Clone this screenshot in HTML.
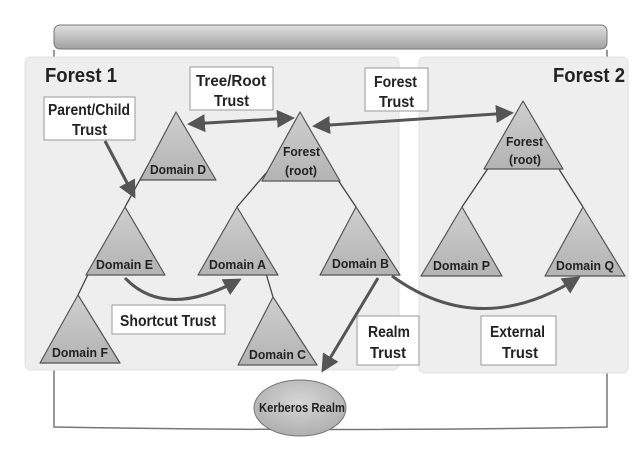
<!DOCTYPE html>
<html><head><meta charset="utf-8"><style>
html,body{margin:0;padding:0;background:#fff;}
svg{display:block;font-family:"Liberation Sans",Arial,sans-serif;}
</style></head><body>
<svg width="640" height="449" viewBox="0 0 640 449" xmlns="http://www.w3.org/2000/svg">
<defs>
<linearGradient id="hdr" x1="0" y1="0" x2="0" y2="1"><stop offset="0" stop-color="#e0e0e0"/><stop offset="1" stop-color="#a0a0a0"/></linearGradient>
<linearGradient id="tri" x1="0" y1="0" x2="0" y2="1"><stop offset="0" stop-color="#cfcfcf"/><stop offset="1" stop-color="#b3b3b3"/></linearGradient>
<radialGradient id="ell" cx="0.5" cy="0.4" r="0.6"><stop offset="0" stop-color="#d6d6d6"/><stop offset="1" stop-color="#afafaf"/></radialGradient>
<marker id="ah" markerWidth="6" markerHeight="6" refX="5" refY="3" orient="auto" markerUnits="strokeWidth"><path d="M0,0 L6,3 L0,6 Z" fill="#555"/></marker>
<marker id="as" markerWidth="6" markerHeight="6" refX="1" refY="3" orient="auto" markerUnits="strokeWidth"><path d="M6,0 L0,3 L6,6 Z" fill="#555"/></marker>
</defs>
<path d="M54,50 L54,427 Q330,432 607,427 L607,50" fill="#fff" stroke="#777" stroke-width="1.5"/>
<rect x="54" y="25" width="553" height="24" rx="6" fill="url(#hdr)" stroke="#777"/>
<rect x="25" y="57" width="374" height="313" rx="6" fill="#eeeeee" stroke="#e0e0e0"/>
<rect x="419" y="57" width="209" height="316" rx="6" fill="#eeeeee" stroke="#e0e0e0"/>
<g font-size="20" font-weight="bold" fill="#222" lengthAdjust="spacingAndGlyphs">
<text x="45" y="82" textLength="72" lengthAdjust="spacingAndGlyphs">Forest 1</text>
<text x="553" y="82" textLength="72" lengthAdjust="spacingAndGlyphs">Forest 2</text>
</g>
<g stroke="#444" stroke-width="1.3" fill="none">
<line x1="148" y1="165" x2="125" y2="207"/>
<line x1="273" y1="165" x2="237" y2="207"/>
<line x1="328" y1="165" x2="356" y2="207"/>
<line x1="497" y1="155" x2="462" y2="207"/>
<line x1="550" y1="155" x2="583" y2="207"/>
<line x1="95" y1="260" x2="78" y2="295"/>
<line x1="262" y1="260" x2="273" y2="297"/>
</g>
<g fill="url(#tri)" stroke="#555" stroke-width="1.2" stroke-linejoin="round">
<polygon points="176,112 140,180 216,180"/>
<polygon points="300,112 262,181 340,181"/>
<polygon points="523,101 484,169 563,169"/>
<polygon points="125,207 86,275 165,275"/>
<polygon points="237,207 198,275 278,275"/>
<polygon points="356,207 320,275 400,275"/>
<polygon points="462,207 421,276 502,276"/>
<polygon points="583,207 545,276 625,276"/>
<polygon points="78,295 40,363 120,363"/>
<polygon points="273,297 238,365 317,365"/>
</g>
<g font-size="13" font-weight="bold" fill="#222">
<text x="150" y="174" textLength="56" lengthAdjust="spacingAndGlyphs">Domain D</text>
<text x="283" y="156" textLength="37" lengthAdjust="spacingAndGlyphs">Forest</text>
<text x="285" y="175" textLength="32" lengthAdjust="spacingAndGlyphs">(root)</text>
<text x="506" y="146" textLength="37" lengthAdjust="spacingAndGlyphs">Forest</text>
<text x="509" y="164" textLength="32" lengthAdjust="spacingAndGlyphs">(root)</text>
<text x="96" y="269" textLength="57" lengthAdjust="spacingAndGlyphs">Domain E</text>
<text x="209" y="269" textLength="57" lengthAdjust="spacingAndGlyphs">Domain A</text>
<text x="332" y="268" textLength="57" lengthAdjust="spacingAndGlyphs">Domain B</text>
<text x="433" y="270" textLength="57" lengthAdjust="spacingAndGlyphs">Domain P</text>
<text x="556" y="270" textLength="58" lengthAdjust="spacingAndGlyphs">Domain Q</text>
<text x="52" y="357" textLength="56" lengthAdjust="spacingAndGlyphs">Domain F</text>
<text x="249" y="359" textLength="57" lengthAdjust="spacingAndGlyphs">Domain C</text>
</g>
<g stroke="#555" stroke-width="3" fill="none">
<line x1="190" y1="124" x2="292" y2="118" marker-start="url(#as)" marker-end="url(#ah)"/>
<line x1="315" y1="126" x2="511" y2="113" marker-start="url(#as)" marker-end="url(#ah)"/>
<line x1="105" y1="141" x2="134" y2="196" marker-end="url(#ah)"/>
<path d="M125,278 Q165,320 239,280" marker-end="url(#ah)"/>
<line x1="378" y1="278" x2="323" y2="370" marker-end="url(#ah)"/>
<path d="M392,276 Q480,340 578,278" marker-end="url(#ah)"/>
</g>
<g fill="#fff" stroke="#999" stroke-width="1">
<rect x="44" y="97" width="91" height="43"/>
<rect x="190" y="67" width="83" height="43"/>
<rect x="365" y="68" width="63" height="43"/>
<rect x="112" y="305" width="113" height="29"/>
<rect x="357" y="316" width="62" height="49"/>
<rect x="481" y="316" width="75" height="49"/>
</g>
<g font-size="16" font-weight="bold" fill="#222">
<text x="48" y="115" textLength="82" lengthAdjust="spacingAndGlyphs">Parent/Child</text>
<text x="72" y="135" textLength="35" lengthAdjust="spacingAndGlyphs">Trust</text>
<text x="196" y="86" textLength="70" lengthAdjust="spacingAndGlyphs">Tree/Root</text>
<text x="214" y="106" textLength="35" lengthAdjust="spacingAndGlyphs">Trust</text>
<text x="374" y="87" textLength="43" lengthAdjust="spacingAndGlyphs">Forest</text>
<text x="379" y="107" textLength="35" lengthAdjust="spacingAndGlyphs">Trust</text>
<text x="120" y="326" textLength="96" lengthAdjust="spacingAndGlyphs">Shortcut Trust</text>
<text x="368" y="337" textLength="42" lengthAdjust="spacingAndGlyphs">Realm</text>
<text x="370" y="358" textLength="36" lengthAdjust="spacingAndGlyphs">Trust</text>
<text x="490" y="337" textLength="55" lengthAdjust="spacingAndGlyphs">External</text>
<text x="502" y="358" textLength="36" lengthAdjust="spacingAndGlyphs">Trust</text>
</g>
<ellipse cx="300" cy="408" rx="46" ry="28" fill="url(#ell)" stroke="#777"/>
<text x="259" y="412" font-size="13" font-weight="bold" fill="#222" textLength="86" lengthAdjust="spacingAndGlyphs">Kerberos Realm</text>
</svg>
</body></html>
